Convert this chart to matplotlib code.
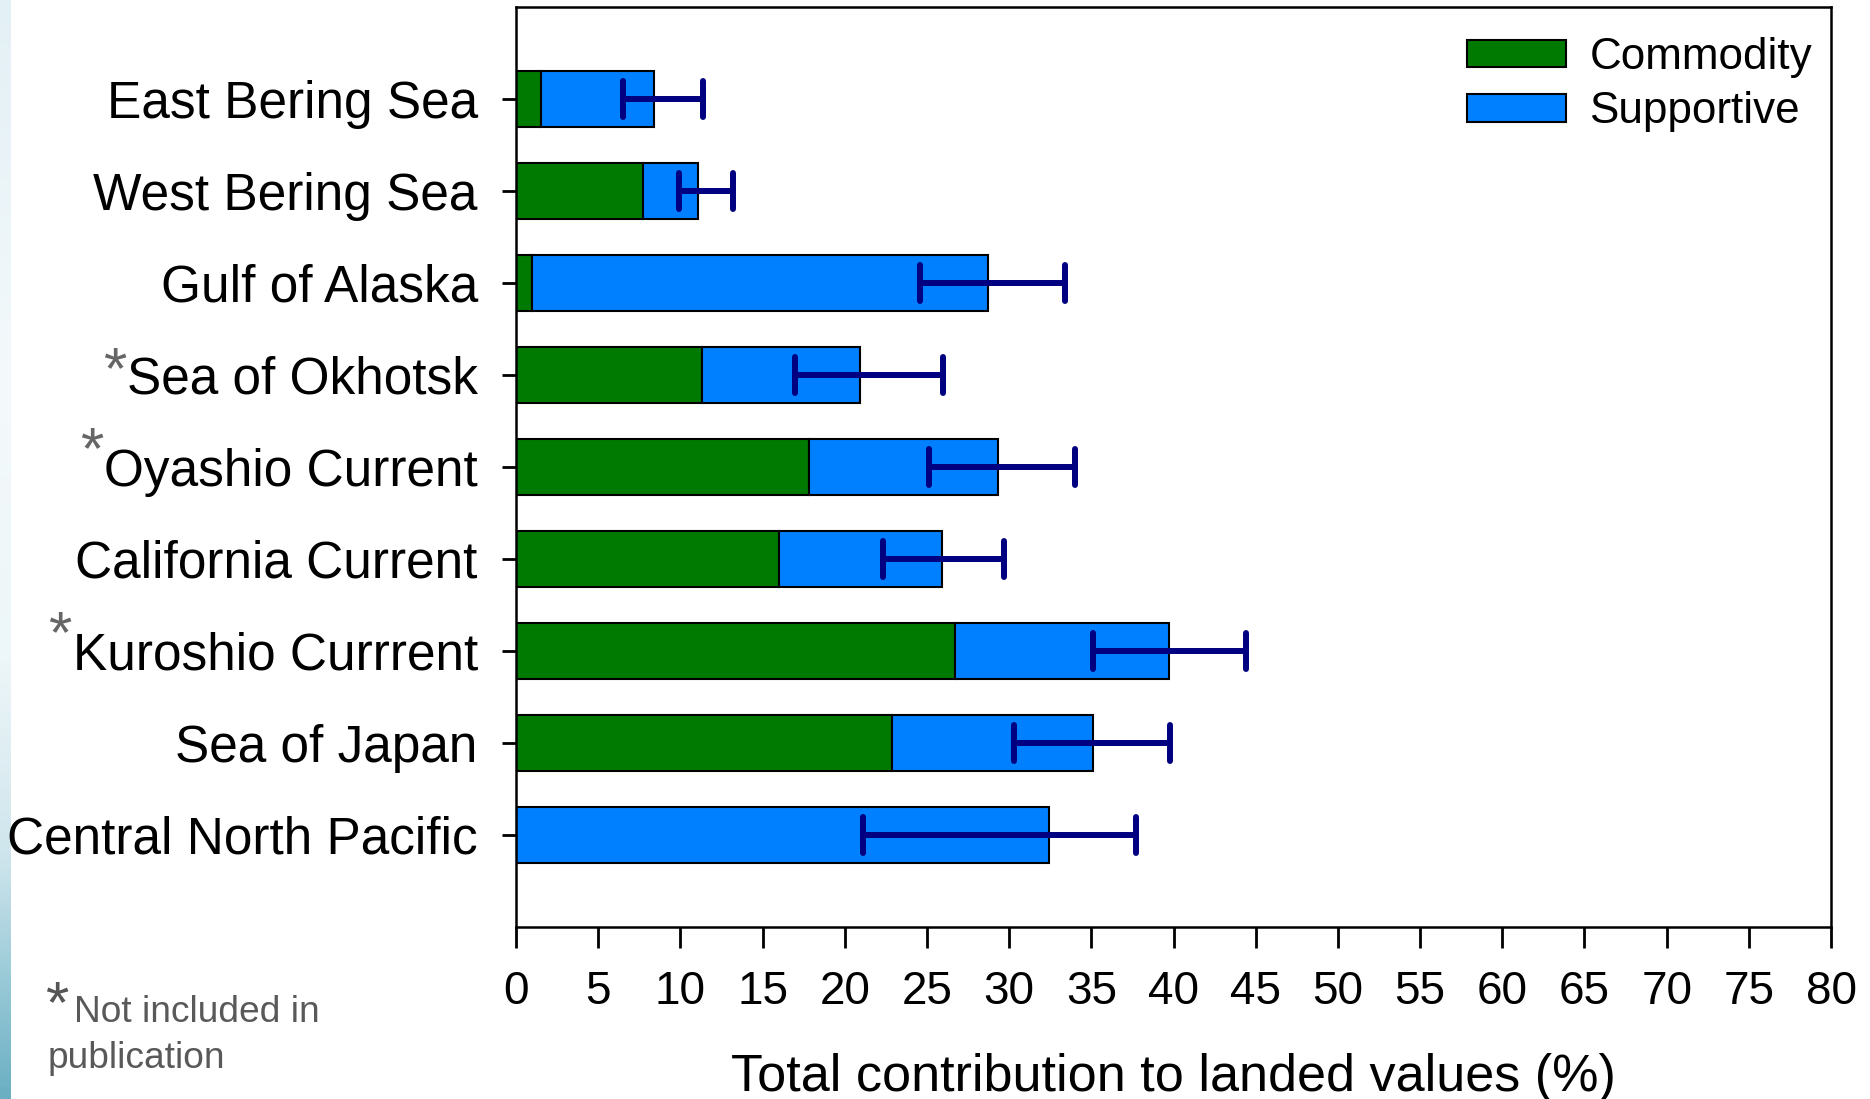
import matplotlib
matplotlib.use("Agg")
import matplotlib.pyplot as plt
import numpy as np
from matplotlib.colors import LinearSegmentedColormap
from matplotlib.patches import Patch
from matplotlib.markers import MarkerStyle
from matplotlib import font_manager

# Large marine ecosystems, listed top to bottom
regions = ["East Bering Sea", "West Bering Sea", "Gulf of Alaska", "Sea of Okhotsk",
           "Oyashio Current", "California Current", "Kuroshio Currrent", "Sea of Japan",
           "Central North Pacific"]
commodity = [1.5, 7.7, 1.0, 11.3, 17.8, 16.0, 26.7, 22.9, 0.0]
supportive = [6.9, 3.4, 27.7, 9.6, 11.5, 9.9, 13.0, 12.2, 32.4]
ci_low = [6.5, 9.9, 24.6, 17.0, 25.1, 22.3, 35.1, 30.3, 21.1]
ci_high = [11.4, 13.2, 33.4, 26.0, 34.0, 29.7, 44.4, 39.8, 37.7]
excluded = [False, False, False, True, True, False, True, False, False]
x_ticks = list(range(0, 85, 5))

# how far (px) each footnote star sits above its label's centre line
star_raise = {"Sea of Okhotsk": 26, "Oyashio Current": 38, "Kuroshio Currrent": 38}


def has_font(name):
    try:
        font_manager.findfont(name, fallback_to_default=False)
        return True
    except ValueError:
        return False


BASE = "Liberation Sans"
NARROW = "Liberation Sans Narrow" if has_font("Liberation Sans Narrow") else BASE
plt.rcParams["font.family"] = [BASE, "DejaVu Sans"]

W, H = 1870, 1099
fig = plt.figure(figsize=(W / 100, H / 100), dpi=100)

# thin decorative gradient strip along the left edge
strip = fig.add_axes([0, 0, 11 / W, 1])
cmap = LinearSegmentedColormap.from_list(
    "edge", [(0.0, "#e3f0f5"), (0.35, "#f4f9fb"), (0.6, "#edf6f8"),
             (0.78, "#cfe5ed"), (0.9, "#96c8d6"), (1.0, "#6aafc3")])
strip.imshow(np.linspace(0, 1, 256)[:, None], aspect="auto", cmap=cmap,
             extent=[0, 1, 1, 0])
strip.set_axis_off()

ax = fig.add_axes([516 / W, 1 - 927 / H, (1831 - 516) / W, (927 - 7) / H])

y = np.arange(1, len(regions) + 1)
com = np.array(commodity)
sup = np.array(supportive)
total = com + sup

ax.barh(y, com, height=0.6, color="#007a00", edgecolor="black", linewidth=1.5,
        label="Commodity", zorder=2)
ax.barh(y, sup, left=com, height=0.6, color="#0080ff", edgecolor="black",
        linewidth=1.5, label="Supportive", zorder=2)

xerr = np.vstack([total - np.array(ci_low), np.array(ci_high) - total])
eb = ax.errorbar(total, y, xerr=xerr, fmt="none", ecolor="#000080",
                 elinewidth=4.3, capsize=13, capthick=4.3, zorder=3)
for lc in eb[2]:
    lc.set_capstyle("round")
for cap in eb[1]:
    cap.set_marker(MarkerStyle("|", capstyle="round"))

ax.set_xlim(0, 80)
ax.set_ylim(len(regions) + 1, 0)
ax.set_xticks(x_ticks)
ax.set_xticklabels([str(t) for t in x_ticks], family=[NARROW, BASE], fontsize=33)
ax.set_yticks(y)
ax.set_yticklabels(regions, fontsize=37)

ax.tick_params(axis="x", length=15, width=2, pad=16, direction="out")
ax.tick_params(axis="y", length=10, width=2, pad=17.5, direction="out")
for sp in ax.spines.values():
    sp.set_linewidth(1.8)

ax.set_xlabel("Total contribution to landed values (%)", family=[NARROW, BASE],
              fontsize=37.5)
ax.xaxis.label.set_va("baseline")
ax.xaxis.set_label_coords(0.5, (927 - 1091) / (927 - 7))

handles = [Patch(facecolor="#007a00", edgecolor="black", linewidth=1.5),
           Patch(facecolor="#0080ff", edgecolor="black", linewidth=1.5)]
ax.legend(handles, ["Commodity", "Supportive"], loc="upper right",
          bbox_to_anchor=(1812 / W, 1 - 37 / H), bbox_transform=fig.transFigure,
          frameon=False, fontsize=31.7, handlelength=2.25, handleheight=0.59,
          handletextpad=0.54, labelspacing=0.3, borderpad=0, borderaxespad=0)

# asterisks marking regions left out of the publication
STAR_PT = 43
star_mid = 0.57 * STAR_PT * 100 / 72  # glyph centre above its baseline, px
fig.canvas.draw()
renderer = fig.canvas.get_renderer()
for lab, flag in zip(ax.get_yticklabels(), excluded):
    if not flag:
        continue
    bb = lab.get_window_extent(renderer)
    cy = (bb.y0 + bb.y1) / 2
    lift = star_raise.get(lab.get_text(), 30)
    fig.text((bb.x0 - 1) / W, (cy + lift - star_mid) / H, "*", ha="right",
             va="baseline", fontsize=STAR_PT, color="#666666")

fig.text(45 / W, 1 - 1022 / H, "*", ha="left", va="baseline", fontsize=STAR_PT,
         color="#555555")
fig.text(74 / W, 1 - 1022 / H, "Not included in", ha="left", va="baseline",
         fontsize=26.7, color="#595959")
fig.text(48 / W, 1 - 1068 / H, "publication", ha="left", va="baseline",
         fontsize=26.7, color="#595959")

fig.savefig("out.png", dpi=100)
